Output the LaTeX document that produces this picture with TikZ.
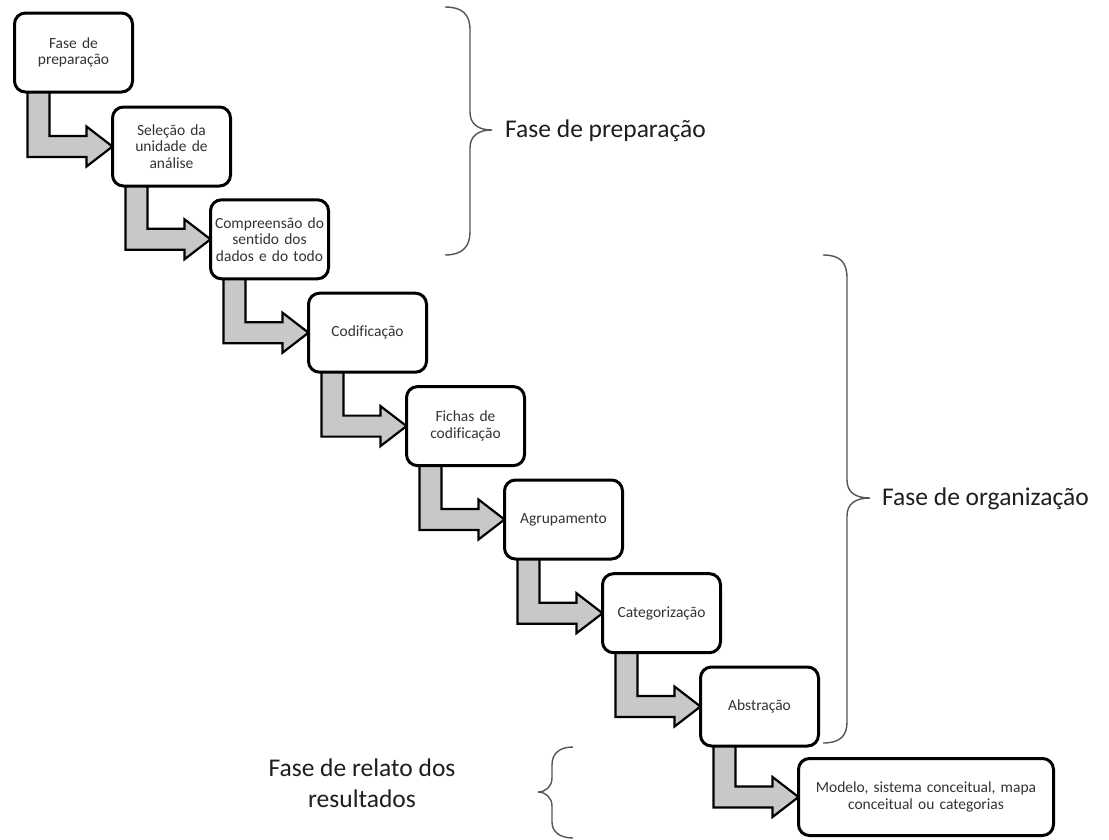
\documentclass[tikz,border=0pt]{standalone}
\usepackage{fontspec}
\setmainfont{Carlito}[Ligatures=NoCommon]
\usetikzlibrary{calc,backgrounds}
\definecolor{arrowgray}{HTML}{C8C8C8}
\definecolor{boxtext}{HTML}{333333}
\definecolor{bracegray}{HTML}{555555}
\definecolor{labeltext}{HTML}{1E1E1E}
\tikzset{
  stepbox/.style={draw=black, line width=3pt, rounded corners=11pt, fill=white,
    minimum width=117pt, minimum height=79pt, inner sep=2pt, outer sep=0pt,
    align=center, text width=114pt, font=\fontsize{15.5}{16.5}\selectfont, text=boxtext},
  bentarrow/.style={draw=black, line width=2.2pt, fill=arrowgray, line join=miter},
  bracestyle/.style={draw=bracegray, line width=1.4pt},
  phaselabel/.style={font=\fontsize{25.5}{31}\selectfont, text=labeltext, align=center, inner sep=0pt},
}
\newcommand{\bentarr}[2]{%
  \draw[bentarrow] ($(#1.south west)+(13,-3)$) -- ($(#1.south west |- #2.west)+(13,10.5)$)
    -- ($(#2.west)+(-26,10.5)$) -- ($(#2.west)+(-26,20)$) -- (#2.west)
    -- ($(#2.west)+(-26,-20)$) -- ($(#2.west)+(-26,-10.5)$)
    -- ($(#1.south west |- #2.west)+(35,-10.5)$) -- ($(#1.south west)+(35,-3)$) -- cycle;}
\begin{document}
\begin{tikzpicture}[x=1pt,y=-1pt]
\useasboundingbox (0,0) rectangle (1109,839);
% boxes
\node[stepbox] (b1) at (73.5,52.5) {Fase de\\preparação};
\node[stepbox] (b2) at (171.5,146.5) {Seleção da\\unidade de\\análise};
\node[stepbox] (b3) at (269.5,239.3) {Compreensão do\\sentido dos\\dados e do todo};
\node[stepbox] (b4) at (367.5,332.7) {Codificação};
\node[stepbox] (b5) at (465.5,426.1) {Fichas de\\codificação};
\node[stepbox] (b6) at (563.5,519.5) {Agrupamento};
\node[stepbox] (b7) at (661.5,613.2) {Categorização};
\node[stepbox] (b8) at (759.5,706.5) {Abstração};
\node[stepbox, minimum width=255pt, minimum height=77pt, text width=250pt] (b9) at (926,797) {Modelo, sistema conceitual, mapa\\conceitual ou categorias};
% arrows behind boxes
\begin{pgfonlayer}{background}
\fill[white] (0,0) rectangle (1109,839);
\bentarr{b1}{b2}
\bentarr{b2}{b3}
\bentarr{b3}{b4}
\bentarr{b4}{b5}
\bentarr{b5}{b6}
\bentarr{b6}{b7}
\bentarr{b7}{b8}
\bentarr{b8}{b9}
\end{pgfonlayer}
% braces
\draw[bracestyle] (445,7) .. controls (462,7) and (470,14) .. (470,30) -- (470,112)
  .. controls (470,124) and (478,130) .. (492,130)
  .. controls (478,130) and (470,136) .. (470,148) -- (470,232)
  .. controls (470,247) and (462,255) .. (445,255);
\draw[bracestyle] (823,255) .. controls (840,255) and (847,262) .. (847,278) -- (847,480)
  .. controls (847,492) and (855,498) .. (870,498)
  .. controls (855,498) and (847,504) .. (847,516) -- (847,722)
  .. controls (847,736) and (840,743) .. (823,743);
\draw[bracestyle] (573,747) .. controls (560,747) and (552,753) .. (552,765) -- (552,778)
  .. controls (552,786) and (546,792) .. (538,792)
  .. controls (546,792) and (552,798) .. (552,806) -- (552,822)
  .. controls (552,832) and (560,838) .. (573,838);
% phase labels
\node[phaselabel, anchor=west] (l1) at (505,131) {Fase de preparação};
\node[phaselabel, anchor=west] (l2) at (882,499) {Fase de organização};
\node[phaselabel] (l3) at (362,783) {Fase de relato dos\\resultados};
\end{tikzpicture}
\end{document}
